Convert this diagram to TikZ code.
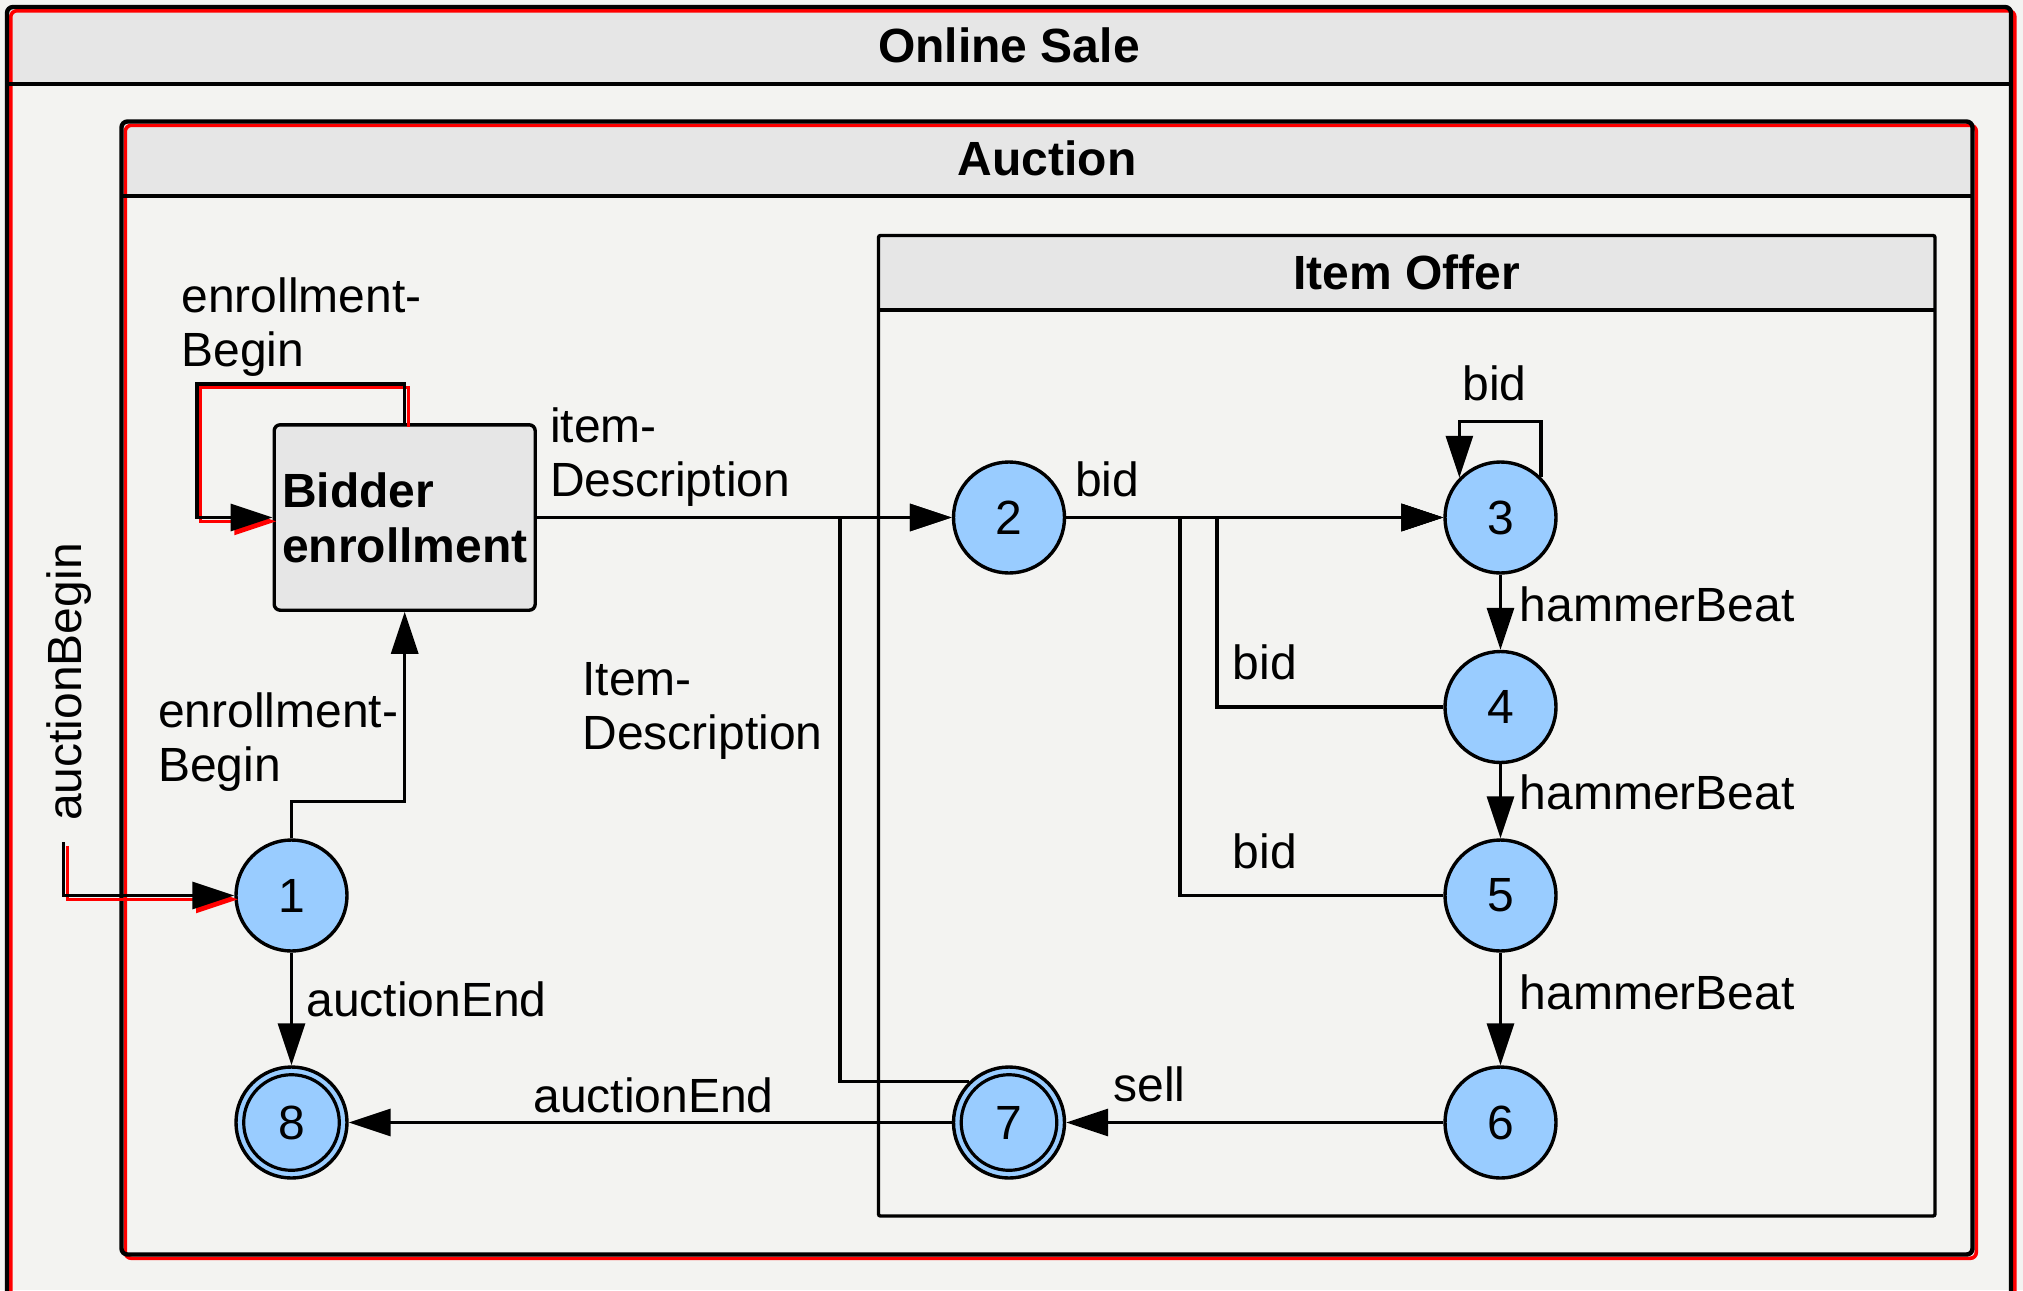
\documentclass[tikz,border=0pt]{standalone}
\usepackage{fontspec}
\setmainfont{Liberation Sans}
\usetikzlibrary{arrows.meta}
\definecolor{canvasbg}{HTML}{F3F3F1}
\definecolor{headbg}{HTML}{E6E6E6}
\definecolor{statefill}{HTML}{99CCFF}
\definecolor{selred}{HTML}{FF0000}
\tikzset{
  lbl/.style={font=\fontsize{24}{27}\selectfont, inner sep=0pt, text=black},
  conn/.style={line width=1.6pt, -{Triangle[length=21pt,width=13.5pt]}},
  stnode/.style={circle, draw, line width=1.7pt, fill=statefill, minimum size=55.5pt,
    inner sep=0pt, font=\fontsize{24}{27}\selectfont},
  ring/.style={line width=1.6pt},
  frame/.style={line width=2.2pt, rounded corners=3pt},
  sep/.style={line width=1.7pt},
  title/.style={font=\bfseries\fontsize{24}{27}\selectfont, inner sep=0pt},
  highlight/.style={draw=selred, fill=none, line width=1.8pt,
    transform canvas={shift={(1.9pt,-1.9pt)}}},
}
\begin{document}
\begin{tikzpicture}[x=0.5pt, y=-0.5pt]
\fill[canvasbg] (0,0) rectangle (2023,1290);
\useasboundingbox (0,0) rectangle (2023,1290);
\clip (0,0) rectangle (2023,1290);

% outer region: Online Sale
\fill[headbg] (7,7) rectangle (2011,84);
\draw[highlight, rounded corners=3pt] (7,7) rectangle (2011,1340);
\draw[frame] (7,7) rectangle (2011,1340);
\draw[sep] (7,84) -- (2011,84);
\node[title] (tOnline) at (1009,45.5) {Online Sale};

% Auction region
\fill[headbg] (121.5,121.5) rectangle (1972.5,196);
\draw[highlight, rounded corners=3pt] (121.5,121.5) rectangle (1972.5,1254.5);
\draw[frame] (121.5,121.5) rectangle (1972.5,1254.5);
\draw[sep] (121.5,196) -- (1972.5,196);
\node[title] (tAuction) at (1047,158) {Auction};

% Item Offer region
\fill[headbg] (878.5,235.5) rectangle (1935,310);
\draw[sep, rounded corners=1pt] (878.5,235.5) rectangle (1935,1216);
\draw[sep] (878.5,310) -- (1935,310);
\node[title] (tItem) at (1406.5,272.5) {Item Offer};

% states
\node[draw, line width=1.7pt, fill=headbg, rounded corners=3pt,
  minimum width=130.5pt, minimum height=92.7pt, inner sep=0pt, align=left,
  font=\bfseries\fontsize{24}{27.5}\selectfont] (be) at (404.7,517.5) {Bidder\\enrollment};
\node[stnode] (s1) at (291.5,895.5) {1};
\node[stnode] (s2) at (1009,517.5) {2};
\node[stnode] (s3) at (1500.5,517.5) {3};
\node[stnode] (s4) at (1500.5,707) {4};
\node[stnode] (s5) at (1500.5,895.5) {5};
\node[stnode] (s6) at (1500.5,1122.5) {6};
\node[stnode] (s7) at (1009,1122.5) {7};
\node[stnode] (s8) at (291.5,1122.5) {8};
\draw[ring] (s7.center) circle[radius=23.9pt];
\draw[ring] (s8.center) circle[radius=23.9pt];

% bend points
\coordinate (ab) at (63.5,842);
\coordinate (bl) at (197,384);
\coordinate (k1) at (404.7,801.7);
\coordinate (k7) at (840,517.5);
\coordinate (k3) at (1500,421.8);
\coordinate (k4) at (1217,517.5);
\coordinate (k5) at (1180,517.5);

% selected transitions (red outline underneath)
\draw[highlight, conn] (ab) |- (s1.west);
\draw[highlight, conn] (be.north) |- (bl) |- (be.west);

% transitions
\draw[conn] (ab) |- (s1.west);
\draw[conn] (be.north) |- (bl) |- (be.west);
\draw[conn] (s1.north) |- (k1) -- (be.south);
\draw[conn] (s1) -- (s8);
\draw[conn] (be.east) -- (s2.west);
\draw[conn] (s7.134) -| (k7) -- (s2.west);
\draw[conn] (s2) -- (s3);
\draw[conn] (s4.west) -| (k4) -- (s3.west);
\draw[conn] (s5.west) -| (k5) -- (s3.west);
\draw[conn] (s3.45) |- (k3) -| (s3.136);
\draw[conn] (s3) -- (s4);
\draw[conn] (s4) -- (s5);
\draw[conn] (s5) -- (s6);
\draw[conn] (s6) -- (s7);
\draw[conn] (s7) -- (s8);

% labels
\node[lbl, rotate=90, anchor=base] (lBegin) at (81.7,682) {auctionBegin};
\node[lbl, anchor=north west, align=left] (lEnrollTop) at (181,277.3) {enrollment-\\Begin};
\node[lbl, anchor=north west, align=left] (lEnrollUp) at (157.7,692.3) {enrollment-\\Begin};
\node[lbl, anchor=north west, align=left] (lItemA) at (549.6,407.3) {item-\\Description};
\node[lbl, anchor=north west, align=left] (lItemB) at (582,661.6) {Item-\\Description};
\node[lbl, anchor=base west] (lEnd18) at (306,1016.7) {auctionEnd};
\node[lbl, anchor=base west] (lEnd78) at (533,1112.7) {auctionEnd};
\node[lbl, anchor=base west] (lSell) at (1113,1101.7) {sell};
\node[lbl, anchor=base west] (lBid23) at (1074.6,496) {bid};
\node[lbl, anchor=base west] (lBid33) at (1462,400) {bid};
\node[lbl, anchor=base west] (lBid43) at (1232.5,679) {bid};
\node[lbl, anchor=base west] (lBid53) at (1232.5,868) {bid};
\node[lbl, anchor=base west] (lHb34) at (1519.5,621.5) {hammerBeat};
\node[lbl, anchor=base west] (lHb45) at (1519.5,809.8) {hammerBeat};
\node[lbl, anchor=base west] (lHb56) at (1519.5,1009.5) {hammerBeat};
\end{tikzpicture}
\end{document}
